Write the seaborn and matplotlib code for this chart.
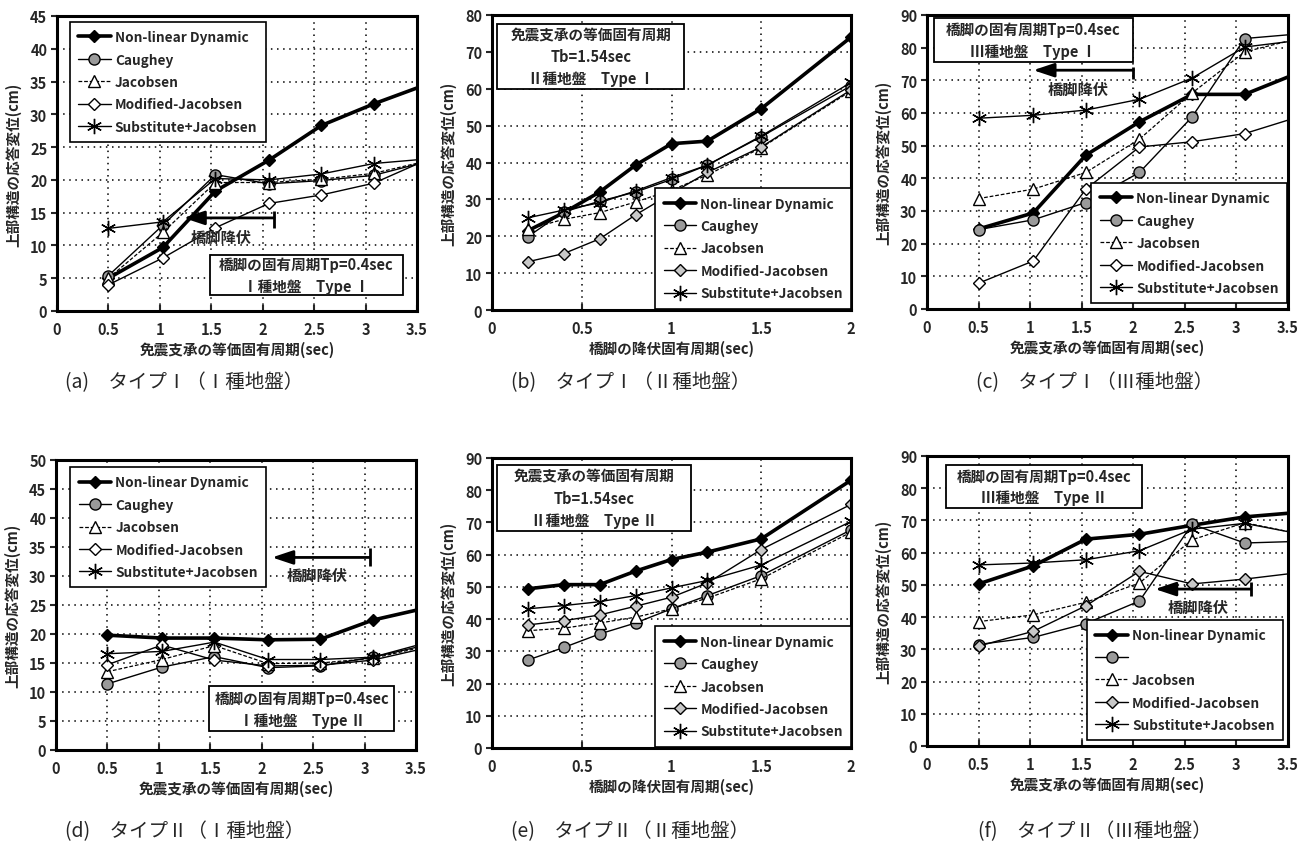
import numpy as np
import pandas as pd
import matplotlib
matplotlib.use("Agg")
import matplotlib.pyplot as plt
from matplotlib.patches import Rectangle
import seaborn as sns

sns.set_theme(style="white")
plt.rcParams['font.family'] = ['Noto Sans CJK JP', 'DejaVu Sans']
plt.rcParams['axes.unicode_minus'] = False

# ---------------- data ----------------
SERIES = ["Non-linear Dynamic", "Caughey", "Jacobsen", "Modified-Jacobsen", "Substitute+Jacobsen"]

x_tb = [0.5, 1.03, 1.54, 2.06, 2.57, 3.08, 3.6]          # 免震支承の等価固有周期
x_ty = [0.2, 0.4, 0.6, 0.8, 1.0, 1.2, 1.5, 2.0]           # 橋脚の降伏固有周期

a_nl = [5.0, 9.7, 18.3, 23.0, 28.3, 31.6, 34.6]
a_cau = [5.4, 13.1, 20.8, 19.4, 19.9, 20.7, 22.8]
a_jac = [5.0, 12.0, 19.6, 19.6, 20.1, 21.0, 22.9]
a_mod = [4.0, 8.1, 12.7, 16.4, 17.7, 19.5, 23.1]
a_sub = [12.6, 13.6, 20.2, 20.0, 20.9, 22.5, 23.2]

b_nl = [21.5, 26.4, 32.0, 39.3, 45.1, 45.8, 54.6, 74.0]
b_cau = [19.9, 26.6, 29.5, 32.0, 35.4, 39.3, 47.0, 60.8]
b_jac = [21.9, 24.6, 26.4, 29.3, 32.5, 36.6, 44.0, 59.4]
b_mod = [13.1, 15.3, 19.3, 25.8, 31.6, 37.3, 44.2, 59.7]
b_sub = [25.0, 27.1, 29.1, 32.3, 35.9, 39.3, 47.2, 61.7]

c_nl = [24.5, 29.4, 47.1, 57.3, 65.7, 65.7, 72.3]
c_cau = [24.3, 27.3, 32.6, 41.8, 58.8, 82.8, 84.2]
c_jac = [33.8, 36.7, 41.8, 52.0, 66.1, 78.7, 82.8]
c_mod = [7.9, 14.7, 36.7, 49.6, 51.2, 53.7, 58.8]
c_sub = [58.4, 59.3, 60.9, 64.2, 70.7, 80.2, 82.2]

d_nl = [19.8, 19.3, 19.3, 19.0, 19.1, 22.4, 24.5]
d_cau = [11.4, 14.3, 16.1, 14.2, 14.5, 16.0, 18.5]
d_jac = [13.5, 15.6, 18.0, 14.9, 15.0, 15.8, 17.9]
d_mod = [14.7, 18.1, 15.5, 14.5, 14.6, 15.5, 17.6]
d_sub = [16.6, 17.0, 18.6, 15.6, 15.6, 16.0, 18.1]

e_nl = [49.4, 50.7, 50.7, 54.9, 58.5, 60.8, 64.9, 83.1]
e_cau = [27.3, 31.2, 35.4, 38.8, 43.2, 47.3, 53.5, 67.7]
e_jac = [36.4, 37.2, 38.8, 40.6, 43.2, 46.5, 52.5, 67.0]
e_mod = [38.2, 39.5, 41.3, 44.0, 46.8, 51.2, 61.6, 75.6]
e_sub = [43.2, 44.2, 45.4, 47.3, 49.7, 52.0, 56.8, 70.3]

f_nl = [50.3, 55.9, 64.2, 65.7, 68.5, 71.1, 72.5]
f_cau = [31.5, 33.7, 38.0, 45.0, 68.8, 63.0, 63.5]
f_jac = [38.6, 40.7, 44.6, 50.6, 64.0, 69.3, 65.9]
f_mod = [31.0, 35.6, 43.5, 54.2, 50.3, 51.8, 53.8]
f_sub = [56.2, 56.8, 57.8, 60.6, 67.3, 69.1, 65.9]

xticks_tb = [0, 0.5, 1, 1.5, 2, 2.5, 3, 3.5]
xticklabels_tb = ["0", "0.5", "1", "1.5", "2", "2.5", "3", "3.5"]
xticks_ty = [0, 0.5, 1, 1.5, 2]
xticklabels_ty = ["0", "0.5", "1", "1.5", "2"]

XLABEL_TB = "免震支承の等価固有周期(sec)"
XLABEL_TY = "橋脚の降伏固有周期(sec)"
YLABEL = "上部構造の応答変位(cm)"

captions = ["(a)　タイプⅠ（Ⅰ種地盤）", "(b)　タイプⅠ（Ⅱ種地盤）", "(c)　タイプⅠ（Ⅲ種地盤）",
            "(d)　タイプⅡ（Ⅰ種地盤）", "(e)　タイプⅡ（Ⅱ種地盤）", "(f)　タイプⅡ（Ⅲ種地盤）"]

boxes = ["橋脚の固有周期Tp=0.4sec\nⅠ種地盤　Type Ⅰ",
         "免震支承の等価固有周期\nTb=1.54sec\nⅡ種地盤　Type Ⅰ",
         "橋脚の固有周期Tp=0.4sec\nⅢ種地盤　Type Ⅰ",
         "橋脚の固有周期Tp=0.4sec\nⅠ種地盤　Type Ⅱ",
         "免震支承の等価固有周期\nTb=1.54sec\nⅡ種地盤　Type Ⅱ",
         "橋脚の固有周期Tp=0.4sec\nⅢ種地盤　Type Ⅱ"]

# ---------------- layout ----------------
W, H = 1308, 853
fig = plt.figure(figsize=(W / 100, H / 100), dpi=100)

def px_axes(l, t, r, b):
    return [l / W, 1 - b / H, (r - l) / W, (b - t) / H]

panels = [
    dict(rect=px_axes(57, 17, 417, 312), x=x_tb, ys=[a_nl, a_cau, a_jac, a_mod, a_sub], ylim=45, ystep=5,
         xt=xticks_tb, xtl=xticklabels_tb, xlim=3.5, xlabel=XLABEL_TB,
         box=(0.425, 0.054, 0.535, 0.136), leg=("upper left", (0.036, 0.98)),
         arrow=(2.11, 1.23, 14.2, 12.7, 15.2, 1.6, 11.3), modfc="white", cap=(0.141, 0.551)),
    dict(rect=px_axes(492, 16, 851, 311), x=x_ty, ys=[b_nl, b_cau, b_jac, b_mod, b_sub], ylim=80, ystep=10,
         xt=xticks_ty, xtl=xticklabels_ty, xlim=2.0, xlabel=XLABEL_TY,
         box=(0.015, 0.75, 0.52, 0.22), leg=("lower right", (1.0, 0.005)),
         arrow=None, modfc="#c8c8c8", cap=(0.482, 0.551)),
    dict(rect=px_axes(927, 16, 1288, 310), x=x_tb, ys=[c_nl, c_cau, c_jac, c_mod, c_sub], ylim=90, ystep=10,
         xt=xticks_tb, xtl=xticklabels_tb, xlim=3.5, xlabel=XLABEL_TB,
         box=(0.02, 0.84, 0.55, 0.15), leg=("lower right", (0.997, 0.02)),
         arrow=(2.0, 1.03, 73.1, 70.3, 74.2, 1.47, 67.3), modfc="white", cap=(0.837, 0.551)),
    dict(rect=px_axes(56, 461, 416, 751), x=x_tb, ys=[d_nl, d_cau, d_jac, d_mod, d_sub], ylim=50, ystep=5,
         xt=xticks_tb, xtl=xticklabels_tb, xlim=3.5, xlabel=XLABEL_TB,
         box=(0.425, 0.064, 0.515, 0.156), leg=("upper left", (0.04, 0.975)),
         arrow=(3.05, 2.1, 33.2, 31.8, 34.8, 2.54, 30.1), modfc="white", cap=(0.141, 0.025)),
    dict(rect=px_axes(492, 459, 851, 749), x=x_ty, ys=[e_nl, e_cau, e_jac, e_mod, e_sub], ylim=90, ystep=10,
         xt=xticks_ty, xtl=xticklabels_ty, xlim=2.0, xlabel=XLABEL_TY,
         box=(0.015, 0.75, 0.54, 0.226), leg=("lower right", (1.0, 0.005)),
         arrow=None, modfc="#c8c8c8", cap=(0.482, 0.025)),
    dict(rect=px_axes(927, 457, 1288, 747), x=x_tb, ys=[f_nl, f_cau, f_jac, f_mod, f_sub], ylim=90, ystep=10,
         xt=xticks_tb, xtl=xticklabels_tb, xlim=3.5, xlabel=XLABEL_TB,
         box=(0.053, 0.82, 0.542, 0.15), leg=("lower right", (0.985, 0.02)),
         arrow=(3.14, 2.21, 48.7, 46.4, 51.0, 2.63, 43.0), modfc="#c8c8c8", cap=(0.837, 0.025)),
]

asterisk = (6, 2, 0)

def styles(modfc):
    return [
        dict(color="black", linewidth=2.6, marker="D", markersize=6, markerfacecolor="black",
             markeredgecolor="black", markeredgewidth=1.0, linestyle="-"),
        dict(color="black", linewidth=1.0, marker="o", markersize=8, markerfacecolor="#9a9a9a",
             markeredgecolor="black", markeredgewidth=1.0, linestyle="-"),
        dict(color="black", linewidth=0.9, marker="^", markersize=8, markerfacecolor="white",
             markeredgecolor="black", markeredgewidth=1.0, linestyle=(0, (3, 1.5))),
        dict(color="black", linewidth=1.0, marker="D", markersize=6.5, markerfacecolor=modfc,
             markeredgecolor="black", markeredgewidth=1.0, linestyle="-"),
        dict(color="black", linewidth=1.0, marker=asterisk, markersize=11, markerfacecolor="black",
             markeredgecolor="black", markeredgewidth=1.0, linestyle="-"),
    ]

for i, p in enumerate(panels):
    ax = fig.add_axes(p["rect"])
    st = styles(p["modfc"])
    for k, (name, yv) in enumerate(zip(SERIES, p["ys"])):
        label = name
        if i == 5 and name == "Caughey":
            label = " "
        df = pd.DataFrame({"x": p["x"], "y": yv})
        sns.lineplot(data=df, x="x", y="y", ax=ax, label=label, legend=False, **st[k])

    ax.set_xlim(0, p["xlim"])
    ax.set_ylim(0, p["ylim"])
    ax.set_xticks(p["xt"])
    ax.set_xticklabels(p["xtl"])
    yt = list(range(0, p["ylim"] + 1, p["ystep"]))
    ax.set_yticks(yt)
    ax.set_yticklabels([str(v) for v in yt])
    ax.grid(True, color="black", linestyle=(0, (1, 3)), linewidth=1.1)
    for sp in ax.spines.values():
        sp.set_color("black")
        sp.set_linewidth(2.2)
    ax.tick_params(axis="y", direction="out", length=4, width=1.5, labelsize=10.5, pad=3, left=True)
    ax.tick_params(axis="x", direction="in", length=4, width=1.5, labelsize=10.5, pad=7, bottom=True)
    for t in ax.get_xticklabels() + ax.get_yticklabels():
        t.set_fontweight("bold")
    ax.set_xlabel(p["xlabel"], fontsize=10.5, fontweight="bold", labelpad=3)
    ax.set_ylabel(YLABEL, fontsize=10.5, fontweight="bold", labelpad=6)

    # info box
    bx, by, bw, bh = p["box"]
    ax.add_patch(Rectangle((bx, by), bw, bh, transform=ax.transAxes, facecolor="white",
                           edgecolor="black", linewidth=1.3, zorder=5))
    ax.text(bx + bw / 2, by + bh / 2, boxes[i], transform=ax.transAxes, ha="center",
            va="center", fontsize=10.5, fontweight="bold", linespacing=1.45, zorder=6)

    # legend
    loc, anchor = p["leg"]
    leg = ax.legend(loc=loc, bbox_to_anchor=anchor, borderaxespad=0, frameon=True, fancybox=False,
                    framealpha=1, edgecolor="black", prop=dict(size=9.8, weight="bold"),
                    handlelength=2.4, labelspacing=0.62, borderpad=0.6, handletextpad=0.3)
    leg.get_frame().set_linewidth(1.2)
    leg.set_zorder(7)

    # 橋脚降伏 arrow
    if p["arrow"] is not None:
        x0, x1, ya, yb0, yb1, tx, ty = p["arrow"]
        ax.annotate("", xy=(x1, ya), xytext=(x0, ya),
                    arrowprops=dict(arrowstyle="-|>,head_length=0.9,head_width=0.3",
                                    color="black", lw=2.0, mutation_scale=14, shrinkA=0, shrinkB=0),
                    zorder=4)
        ax.vlines(x0, yb0, yb1, colors="black", linewidth=2.0, zorder=4)
        ax.text(tx, ty, "橋脚降伏", ha="center", va="center", fontsize=11, fontweight="bold", zorder=4)

    cx, cy = p["cap"]
    fig.text(cx, cy, captions[i], ha="center", va="center", fontsize=14)

fig.savefig("out.png", dpi=100)
